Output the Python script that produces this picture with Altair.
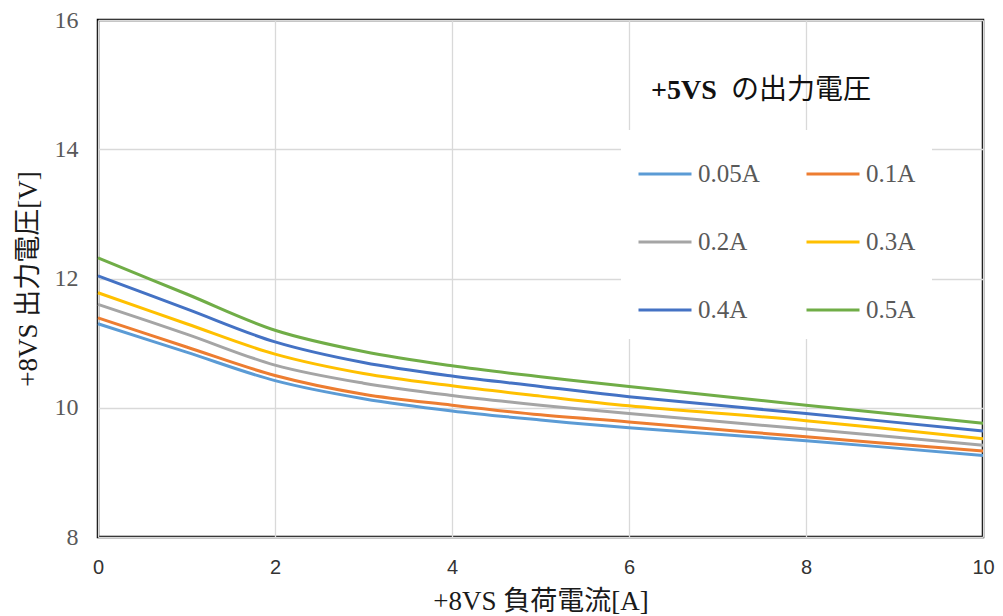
import altair as alt
import pandas as pd

# ---- data ----
load_a = [0, 1, 2, 3, 4, 5, 6, 8, 10]
v_005 = [11.30, 10.86, 10.42, 10.14, 9.95, 9.81, 9.69, 9.49, 9.26]
v_010 = [11.39, 10.94, 10.50, 10.21, 10.04, 9.89, 9.78, 9.55, 9.33]
v_020 = [11.60, 11.14, 10.66, 10.38, 10.19, 10.04, 9.91, 9.67, 9.42]
v_030 = [11.78, 11.30, 10.83, 10.53, 10.34, 10.18, 10.03, 9.80, 9.52]
v_040 = [12.04, 11.53, 11.02, 10.70, 10.49, 10.33, 10.17, 9.91, 9.64]
v_050 = [12.32, 11.76, 11.20, 10.87, 10.65, 10.48, 10.33, 10.04, 9.76]

series_names = ["0.05A", "0.1A", "0.2A", "0.3A", "0.4A", "0.5A"]
series_colors = ["#5B9BD5", "#ED7D31", "#A5A5A5", "#FFC000", "#4472C4", "#70AD47"]
x_ticks = [0, 2, 4, 6, 8, 10]
y_ticks = [8, 10, 12, 14, 16]
x_title = "+8VS 負荷電流[A]"
y_title = "+8VS 出力電圧[V]"
legend_title_bold = "+5VS"
legend_title_rest = "の出力電圧"

rows = []
for name, vals in zip(series_names, [v_005, v_010, v_020, v_030, v_040, v_050]):
    for x, y in zip(load_a, vals):
        rows.append({"load": x, "volt": y, "series": name})
df = pd.DataFrame(rows)

SERIF = "Liberation Serif, Noto Sans CJK JP"

lines = alt.Chart(df).mark_line(interpolate="catmull-rom", strokeWidth=3).encode(
    x=alt.X(
        "load:Q",
        scale=alt.Scale(domain=[0, 10], nice=False, zero=False),
        axis=alt.Axis(
            values=x_ticks, title=x_title, labelFont="Liberation Sans",
            labelFontSize=20, labelColor="#333333", labelPadding=20,
            labelFlush=False,
            titleFont=SERIF, titleFontSize=27, titleFontWeight="normal",
            titleColor="#1a1a1a", titlePadding=11,
        ),
    ),
    y=alt.Y(
        "volt:Q",
        scale=alt.Scale(domain=[8, 16], nice=False, zero=False),
        axis=alt.Axis(
            values=y_ticks, title=y_title, labelFont="Liberation Serif",
            labelFontSize=24, labelColor="#595959", labelPadding=20,
            labelFlush=False,
            titleFont=SERIF, titleFontSize=27, titleFontWeight="normal",
            titleColor="#1a1a1a", titlePadding=12,
        ),
    ),
    color=alt.Color(
        "series:N",
        scale=alt.Scale(domain=series_names, range=series_colors),
        legend=alt.Legend(
            orient="none", legendX=523, legendY=110, columns=2, title=None,
            direction="horizontal",
            fillColor="white", padding=16, symbolType="stroke",
            symbolSize=2809, symbolStrokeWidth=3, labelFont="Liberation Serif",
            labelFontSize=25, labelColor="#595959", labelOffset=5,
            columnPadding=40, rowPadding=27, labelLimit=300,
        ),
    ),
)

title_bold = alt.Chart(alt.Data(values=[{"t": legend_title_bold}])).mark_text(
    align="left", baseline="middle", font="Liberation Serif", fontSize=28,
    fontWeight="bold", color="#111111",
).encode(x=alt.value(553), y=alt.value(71), text="t:N")

title_rest = alt.Chart(alt.Data(values=[{"t": legend_title_rest}])).mark_text(
    align="left", baseline="middle", font="Noto Sans CJK JP", fontSize=28,
    fontWeight="normal", color="#111111",
).encode(x=alt.value(633), y=alt.value(71), text="t:N")

chart = alt.layer(lines, title_bold, title_rest).properties(
    width=885, height=517,
    autosize=alt.AutoSizeParams(type="none"),
    padding={"left": 98, "top": 20, "right": 20, "bottom": 79},
    background="white",
).configure_view(
    stroke="black", strokeWidth=2.5,
).configure_axis(
    domain=False, ticks=False, grid=True, gridColor="#d9d9d9", gridWidth=1.3,
)

chart.save("out.html", embed_options={"renderer": "svg", "actions": False})
